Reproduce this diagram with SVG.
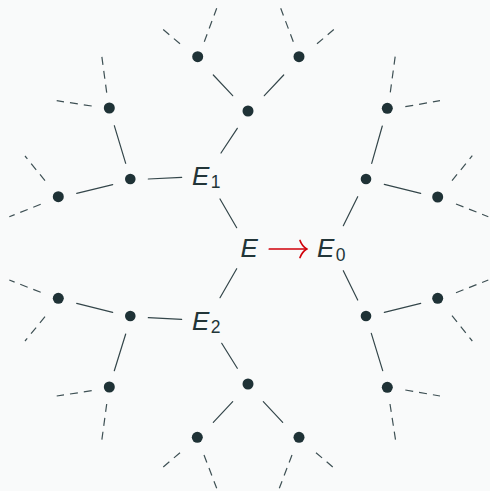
<svg xmlns="http://www.w3.org/2000/svg" width="490" height="491" viewBox="0 0 490 491">
<defs>
<style>
.bg{fill:#f9fafa}
.dot{fill:#1f3236}
.e{stroke:#34464a;stroke-width:1.2;fill:none;stroke-linecap:round}
.d{stroke:#3e5054;stroke-width:1.2;fill:none;stroke-dasharray:8 6}
.lbl{font-family:"Liberation Sans",Arial,sans-serif;font-style:italic;fill:#223538;font-size:26px}
.sub{font-size:17.5px;font-style:normal}
.arr{stroke:#d0000a;stroke-width:1.7;fill:none;stroke-linecap:round}
</style>
</defs>
<rect class="bg" x="0" y="0" width="490" height="491"/>
<g id="connectors">
<line class="e" x1="236.7" y1="227.7" x2="220" y2="199"/>
<line class="e" x1="236.7" y1="268.7" x2="220" y2="297.7"/>
<line class="e" x1="221" y1="153" x2="237.3" y2="128.3"/>
<line class="e" x1="148.3" y1="179" x2="181.7" y2="177.3"/>
<line class="e" x1="213.3" y1="75" x2="232.7" y2="95.7"/>
<line class="e" x1="264.3" y1="95.7" x2="283.7" y2="75"/>
<line class="d" x1="180" y1="43.8" x2="161.7" y2="28.3"/>
<line class="d" x1="204.3" y1="41.7" x2="216.7" y2="8.3"/>
<line class="d" x1="293.3" y1="41.7" x2="280.7" y2="8.3"/>
<line class="d" x1="317" y1="43.8" x2="335.3" y2="28.3"/>
<line class="e" x1="114.3" y1="125.7" x2="125.7" y2="163.3"/>
<line class="e" x1="112.7" y1="184.7" x2="76.7" y2="193.3"/>
<line class="d" x1="91.7" y1="106" x2="56.7" y2="100.7"/>
<line class="d" x1="106.7" y1="92.6" x2="101.7" y2="55.6"/>
<line class="d" x1="45" y1="180.7" x2="25" y2="156"/>
<line class="d" x1="40.7" y1="204.3" x2="9.3" y2="216.7"/>
<line class="e" x1="148.3" y1="317.7" x2="181.7" y2="319.3"/>
<line class="e" x1="221.7" y1="343.3" x2="237.3" y2="368.3"/>
<line class="e" x1="112.7" y1="312.3" x2="76.7" y2="303.3"/>
<line class="e" x1="125.7" y1="334" x2="114.3" y2="370.7"/>
<line class="d" x1="40.7" y1="292.3" x2="9.3" y2="280"/>
<line class="d" x1="45" y1="316.7" x2="25" y2="341"/>
<line class="d" x1="91.7" y1="390.7" x2="56.7" y2="396"/>
<line class="d" x1="106.7" y1="404" x2="101.7" y2="441"/>
<line class="e" x1="232.7" y1="401.7" x2="213.3" y2="422.3"/>
<line class="e" x1="263.3" y1="401.7" x2="282.7" y2="422.3"/>
<line class="d" x1="180" y1="452.7" x2="161.7" y2="468.3"/>
<line class="d" x1="204" y1="455" x2="216.7" y2="488.3"/>
<line class="d" x1="292" y1="455" x2="279.3" y2="488.3"/>
<line class="d" x1="316" y1="452.7" x2="334.3" y2="468.3"/>
<line class="e" x1="357.7" y1="196.7" x2="343.3" y2="225.7"/>
<line class="e" x1="343.3" y1="270.7" x2="357.7" y2="300"/>
<line class="e" x1="371.7" y1="163.3" x2="382.3" y2="126"/>
<line class="e" x1="384.3" y1="184.3" x2="420.7" y2="193.3"/>
<line class="d" x1="390.3" y1="92.3" x2="395.3" y2="55.6"/>
<line class="d" x1="405.3" y1="106.7" x2="440" y2="100.7"/>
<line class="d" x1="452" y1="180.7" x2="472.3" y2="155.7"/>
<line class="d" x1="456" y1="204" x2="488.3" y2="216.7"/>
<line class="e" x1="384.3" y1="312.3" x2="420.7" y2="303.3"/>
<line class="e" x1="371.3" y1="333.3" x2="382.7" y2="370.7"/>
<line class="d" x1="456" y1="292.7" x2="488.3" y2="280"/>
<line class="d" x1="452" y1="315.7" x2="472.3" y2="341"/>
<line class="d" x1="405.3" y1="390" x2="440" y2="396"/>
<line class="d" x1="390" y1="404" x2="395.7" y2="441"/>
<g id="arrow">
<line class="arr" x1="269.3" y1="249" x2="306.5" y2="249"/>
<path class="arr" d="M300,240.5 Q302,246 306.7,249 Q302,252 300,257.5"/>
</g>
</g>
<g id="E"><text class="lbl" x="240.5" y="257.3">E</text></g>
<g id="E0"><text class="lbl" x="317" y="257.3">E<tspan class="sub" dx="1.5" dy="3.3">0</tspan></text></g>
<g id="E1"><text class="lbl" x="192" y="185">E<tspan class="sub" dx="1.5" dy="3.3">1</tspan></text></g>
<g id="E2"><text class="lbl" x="192" y="330">E<tspan class="sub" dx="1.5" dy="2.7">2</tspan></text></g>
<g id="n_top"><circle class="dot" cx="248" cy="111" r="5.5"/></g>
<g id="n_top_l"><circle class="dot" cx="197.7" cy="56.7" r="5.5"/></g>
<g id="n_top_r"><circle class="dot" cx="299" cy="56.7" r="5.5"/></g>
<g id="n_ul"><circle class="dot" cx="130.3" cy="179" r="5.3"/></g>
<g id="n_ul_a"><circle class="dot" cx="109.3" cy="108" r="5.5"/></g>
<g id="n_ul_b"><circle class="dot" cx="58.3" cy="196.7" r="5.5"/></g>
<g id="n_ll"><circle class="dot" cx="130.3" cy="316" r="5.3"/></g>
<g id="n_ll_a"><circle class="dot" cx="58.3" cy="298.3" r="5.5"/></g>
<g id="n_ll_b"><circle class="dot" cx="109.3" cy="387" r="5.5"/></g>
<g id="n_bot"><circle class="dot" cx="248" cy="384" r="5.5"/></g>
<g id="n_bot_l"><circle class="dot" cx="197.3" cy="437.3" r="5.5"/></g>
<g id="n_bot_r"><circle class="dot" cx="299" cy="437.3" r="5.5"/></g>
<g id="n_ur"><circle class="dot" cx="366" cy="179" r="5.3"/></g>
<g id="n_ur_a"><circle class="dot" cx="387.3" cy="108.3" r="5.5"/></g>
<g id="n_ur_b"><circle class="dot" cx="437.7" cy="197" r="5.5"/></g>
<g id="n_lr"><circle class="dot" cx="366" cy="316" r="5.3"/></g>
<g id="n_lr_a"><circle class="dot" cx="437.7" cy="298.3" r="5.5"/></g>
<g id="n_lr_b"><circle class="dot" cx="387.3" cy="387.3" r="5.5"/></g>
</svg>
